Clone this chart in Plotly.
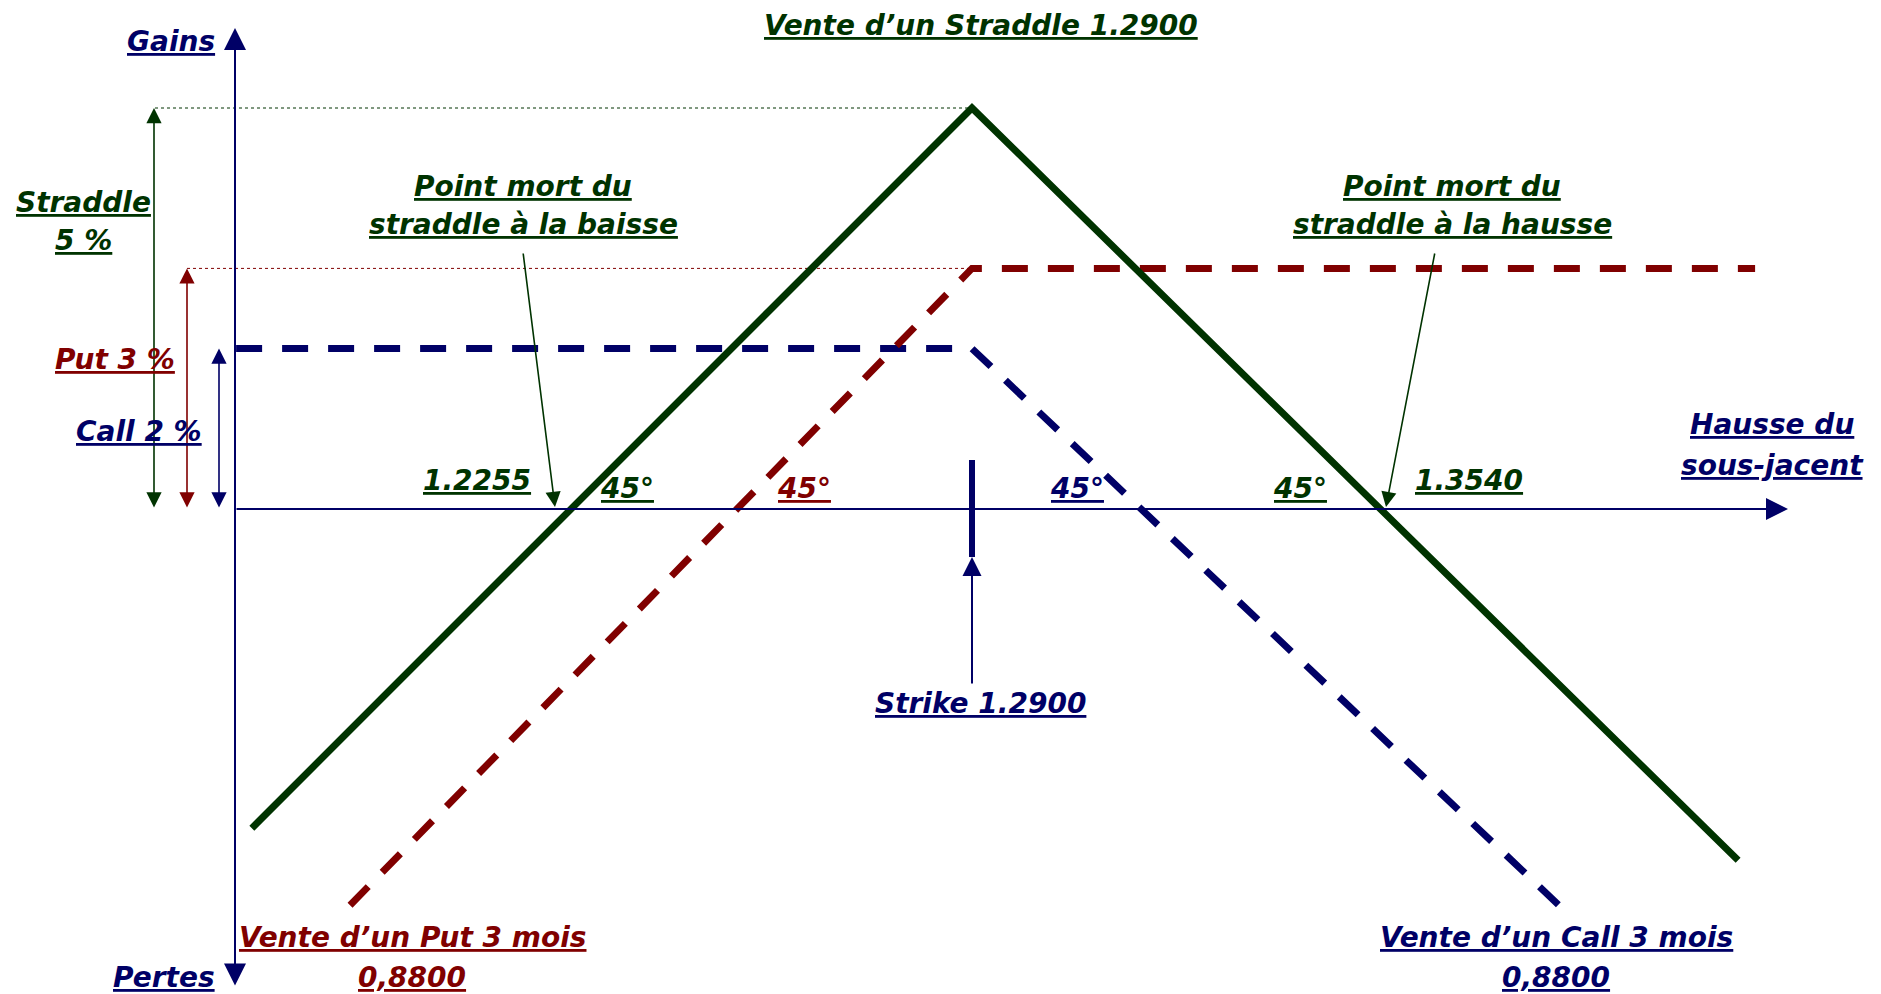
import plotly.graph_objects as go

# ---------------- data (price on x, P&L in % on y) ----------------
STRIKE = 1.2900
BE_LOW = 1.2255
BE_HIGH = 1.3540
PREMIUM_STRADDLE = 5
PREMIUM_PUT = 3
PREMIUM_CALL = 2

straddle_x = [1.1756, 1.2900, 1.4117]
straddle_y = [-3.98, 5.0, -4.38]

put_x = [1.1912, 1.2900, 1.4144]
put_y = [-4.94, 3.0, 3.0]

call_x = [1.1731, 1.2900, 1.3839]
call_y = [2.0, 2.0, -4.99]

GREEN = "#003300"
RED = "#800000"
BLUE = "#000066"

W, H = 1881, 994
# scale: pixels per price unit / per percent point
XS = 6295.0
YS = 80.2
X0 = STRIKE - 972 / XS          # price at left edge of the figure
YTOP = 509 / YS                 # percent at top edge of the figure


def px2x(px):
    return X0 + px / XS


def py2y(py):
    return YTOP - py / YS


AXIS_X = px2x(235)
FONT = "DejaVu Sans"
FS = 28

fig = go.Figure()

# reference dotted lines
fig.add_trace(go.Scatter(x=[px2x(155), STRIKE], y=[PREMIUM_STRADDLE, PREMIUM_STRADDLE], mode="lines",
                         line=dict(color=GREEN, width=1, dash="dot"), hoverinfo="skip"))
fig.add_trace(go.Scatter(x=[px2x(187), STRIKE], y=[PREMIUM_PUT, PREMIUM_PUT], mode="lines",
                         line=dict(color=RED, width=1, dash="dot"), hoverinfo="skip"))

# payoff lines
fig.add_trace(go.Scatter(x=call_x, y=call_y, mode="lines",
                         line=dict(color=BLUE, width=7, dash="26px,20px"), name="Call"))
fig.add_trace(go.Scatter(x=put_x, y=put_y, mode="lines",
                         line=dict(color=RED, width=7, dash="26px,20px"), name="Put"))
fig.add_trace(go.Scatter(x=straddle_x, y=straddle_y, mode="lines",
                         line=dict(color=GREEN, width=7), name="Straddle"))

# strike tick
fig.add_trace(go.Scatter(x=[STRIKE, STRIKE], y=[py2y(460), py2y(557)], mode="lines",
                         line=dict(color=BLUE, width=6), hoverinfo="skip"))

annotations = []


def arrow(x0, y0, x1, y1, color, width, size, both=False):
    annotations.append(dict(
        x=x1, y=y1, ax=x0, ay=y0, xref="x", yref="y", axref="x", ayref="y",
        text="", showarrow=True, arrowhead=2, arrowsize=size, arrowwidth=width,
        arrowcolor=color, arrowside="end+start" if both else "end", startarrowhead=2,
        startarrowsize=size))


# axes
arrow(AXIS_X, py2y(987), AXIS_X, py2y(28), BLUE, 2, 2.2, both=True)
arrow(AXIS_X, 0, px2x(1788), 0, BLUE, 2, 2.2)

# premium double arrows
arrow(px2x(154), 0, px2x(154), PREMIUM_STRADDLE, GREEN, 1.6, 1.9, both=True)
arrow(px2x(187), 0, px2x(187), PREMIUM_PUT, RED, 1.6, 1.9, both=True)
arrow(px2x(219), 0, px2x(219), PREMIUM_CALL, BLUE, 1.6, 1.9, both=True)

# breakeven pointers
arrow(px2x(523), py2y(252), px2x(555), py2y(507), GREEN, 1.6, 1.9)
arrow(px2x(1435), py2y(252), px2x(1386), py2y(507), GREEN, 1.6, 1.9)

# strike pointer
arrow(STRIKE, py2y(685), STRIKE, py2y(557), BLUE, 2, 1.9)

# text labels: (text, colour, centre x px, centre y px)
labels = [
    ("Vente d’un Straddle 1.2900", GREEN, 981, 25),
    ("Gains", BLUE, 171, 42),
    ("Pertes", BLUE, 164, 977),
    ("Straddle", GREEN, 83, 202),
    ("5 %", GREEN, 83, 240),
    ("Put 3 %", RED, 115, 360),
    ("Call 2 %", BLUE, 139, 432),
    ("Point mort du", GREEN, 523, 186),
    ("straddle à la baisse", GREEN, 523, 225),
    ("Point mort du", GREEN, 1452, 186),
    ("straddle à la hausse", GREEN, 1452, 225),
    ("1.2255", GREEN, 477, 480),
    ("45°", GREEN, 627, 488),
    ("45°", RED, 804, 488),
    ("45°", BLUE, 1077, 488),
    ("45°", GREEN, 1300, 488),
    ("1.3540", GREEN, 1469, 480),
    ("Hausse du", BLUE, 1772, 425),
    ("sous-jacent", BLUE, 1772, 465),
    ("Strike 1.2900", BLUE, 981, 703),
    ("Vente d’un Put 3 mois", RED, 412, 937),
    ("0,8800", RED, 412, 977),
    ("Vente d’un Call 3 mois", BLUE, 1556, 937),
    ("0,8800", BLUE, 1556, 977),
]

for text, color, cx, cy in labels:
    annotations.append(dict(
        x=cx / W, y=1 - cy / H, xref="paper", yref="paper", xanchor="center", yanchor="middle",
        text="<u>" + text + "</u>", showarrow=False,
        font=dict(family=FONT, size=FS, color=color, weight="bold", style="italic")))

fig.update_layout(
    width=W, height=H, margin=dict(l=0, r=0, t=0, b=0),
    paper_bgcolor="white", plot_bgcolor="white", showlegend=False,
    xaxis=dict(range=[px2x(0), px2x(W)], visible=False, fixedrange=True),
    yaxis=dict(range=[py2y(H), py2y(0)], visible=False, fixedrange=True),
    annotations=annotations,
)

fig.write_html("out.html", config={"displayModeBar": False},
               post_script="document.body.style.margin='0';document.body.style.overflow='hidden';")
